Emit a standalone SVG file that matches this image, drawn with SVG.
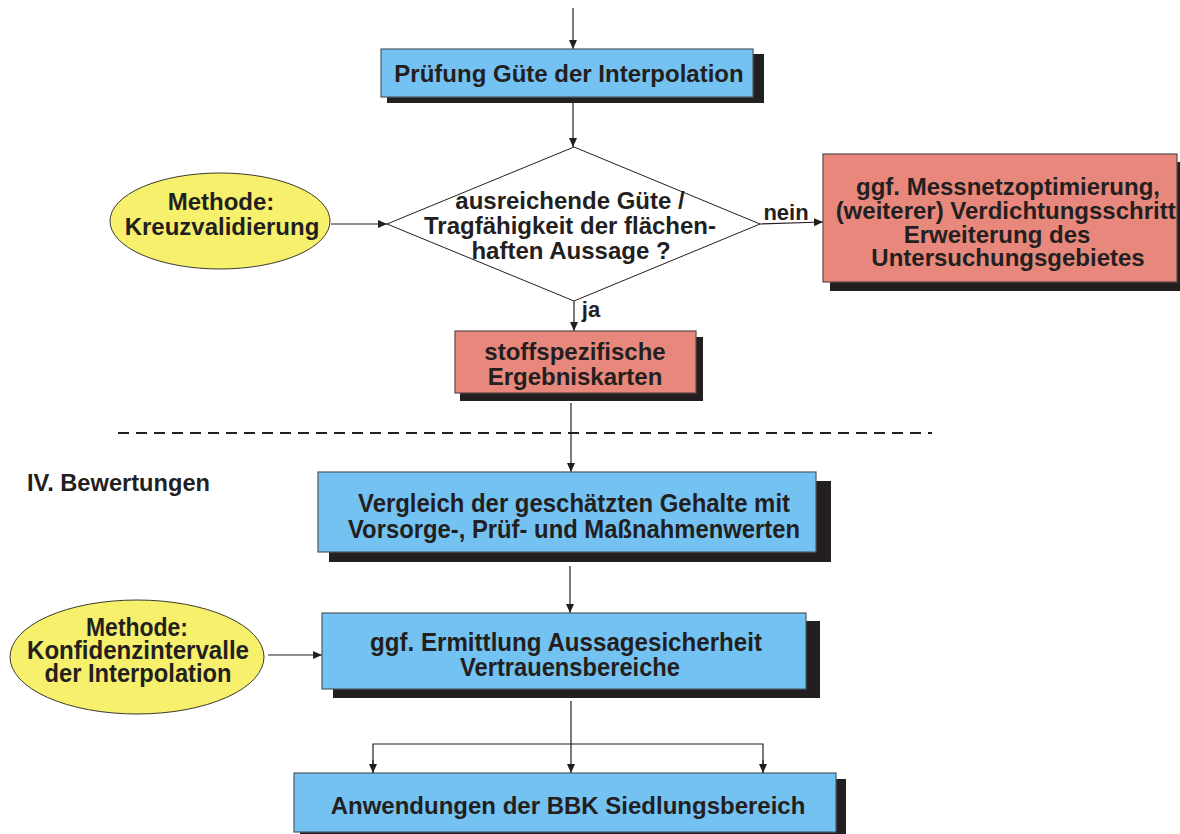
<svg xmlns="http://www.w3.org/2000/svg" width="1180" height="834" viewBox="0 0 1180 834">
  <defs>
    <marker id="arrow" markerWidth="10" markerHeight="10" refX="9" refY="5" orient="auto" markerUnits="userSpaceOnUse">
      <path d="M0,1 L9,5 L0,9 Z" fill="#231f20"/>
    </marker>
    <style>
      .shadow { fill: #231f20; }
      .blue { fill: #74c2f2; stroke: #4d5a66; stroke-width: 1.2; }
      .red { fill: #e8877b; stroke: #5a4a48; stroke-width: 1.2; }
      .yellow { fill: #f6f06c; stroke: #3a3a30; stroke-width: 1; }
      .diamond { fill: #ffffff; stroke: #231f20; stroke-width: 1; }
      .t { font-family: "Liberation Sans", Arial, sans-serif; font-weight: bold; fill: #231f20; text-anchor: middle; }
      .s24 { font-size: 24px; }
      .n25 { font-size: 25px; }
      .conn { stroke: #231f20; stroke-width: 1.2; fill: none; }
      .dash { stroke: #231f20; stroke-width: 2; stroke-dasharray: 11 7; fill: none; }
    </style>
  </defs>

  <rect width="1180" height="834" fill="#ffffff"/>

  <!-- connectors -->
  <g id="connectors">
    <line class="conn" x1="573" y1="8" x2="573" y2="49" marker-end="url(#arrow)"/>
    <line class="conn" x1="573" y1="103" x2="573" y2="147" marker-end="url(#arrow)"/>
    <line class="conn" x1="331" y1="224" x2="387" y2="224" marker-end="url(#arrow)"/>
    <line class="conn" x1="760" y1="224" x2="823" y2="222" marker-end="url(#arrow)"/>
    <line class="conn" x1="574" y1="301" x2="574" y2="331" marker-end="url(#arrow)"/>
    <line class="conn" x1="571" y1="403" x2="571" y2="472" marker-end="url(#arrow)"/>
    <line class="conn" x1="570" y1="566" x2="570" y2="613" marker-end="url(#arrow)"/>
    <line class="conn" x1="268" y1="655" x2="322" y2="655" marker-end="url(#arrow)"/>
    <line class="conn" x1="571" y1="701" x2="571" y2="773" marker-end="url(#arrow)"/>
    <polyline class="conn" points="373,773 373,744 763,744 763,773"/>
    <line class="conn" x1="373" y1="760" x2="373" y2="773" marker-end="url(#arrow)"/>
    <line class="conn" x1="763" y1="760" x2="763" y2="773" marker-end="url(#arrow)"/>
    <text class="t" x="786" y="220" style="font-size:22px">nein</text>
    <text class="t" x="591" y="317" style="font-size:22px">ja</text>
  </g>

  <!-- section separator -->
  <line class="dash" x1="118" y1="433" x2="932" y2="433"/>
  <text class="t" x="27" y="491" style="text-anchor:start;font-size:23px" textLength="183" lengthAdjust="spacingAndGlyphs">IV. Bewertungen</text>

  <g id="pruefung">
    <rect class="shadow" x="387" y="54" width="377" height="49"/>
    <rect class="blue" x="381" y="49" width="372" height="48"/>
    <text class="t s24" x="569" y="82">Prüfung Güte der Interpolation</text>
  </g>

  <g id="kreuzvalidierung">
    <ellipse class="yellow" cx="220" cy="221" rx="110" ry="48"/>
    <text class="t s24" x="221" y="210">Methode:</text>
    <text class="t s24" x="222" y="235">Kreuzvalidierung</text>
  </g>

  <g id="guete">
    <polygon class="diamond" points="574,147 760,224 574,301 387,224"/>
    <text class="t s24" x="570" y="209">ausreichende Güte /</text>
    <text class="t s24" x="570" y="234">Tragfähigkeit der flächen-</text>
    <text class="t s24" x="571" y="259">haften Aussage ?</text>
  </g>

  <g id="messnetz">
    <rect class="shadow" x="830" y="162" width="360" height="129"/>
    <rect class="red" x="823" y="154" width="354" height="128"/>
    <text class="t s24" x="1008" y="195">ggf. Messnetzoptimierung,</text>
    <text class="t s24" x="1009" y="219">(weiterer) Verdichtungsschritt,</text>
    <text class="t s24" x="997" y="243">Erweiterung des</text>
    <text class="t s24" x="1008" y="266">Untersuchungsgebietes</text>
  </g>

  <g id="ergebniskarten">
    <rect class="shadow" x="460" y="337" width="243" height="64"/>
    <rect class="red" x="455" y="331" width="241" height="62"/>
    <text class="t s24" x="575" y="360">stoffspezifische</text>
    <text class="t s24" x="575" y="385">Ergebniskarten</text>
  </g>

  <g id="vergleich">
    <rect class="shadow" x="329" y="481" width="502" height="81"/>
    <rect class="blue" x="318" y="472" width="498" height="80"/>
    <text class="t n25" x="574" y="512" textLength="432" lengthAdjust="spacingAndGlyphs">Vergleich der geschätzten Gehalte mit</text>
    <text class="t n25" x="574" y="538" textLength="452" lengthAdjust="spacingAndGlyphs">Vorsorge-, Prüf- und Maßnahmenwerten</text>
  </g>

  <g id="konfidenz">
    <ellipse class="yellow" cx="137" cy="657" rx="127" ry="57"/>
    <text class="t n25" x="137" y="636" textLength="102" lengthAdjust="spacingAndGlyphs">Methode:</text>
    <text class="t n25" x="138" y="659" textLength="222" lengthAdjust="spacingAndGlyphs">Konfidenzintervalle</text>
    <text class="t n25" x="138" y="682" textLength="187" lengthAdjust="spacingAndGlyphs">der Interpolation</text>
  </g>

  <g id="ermittlung">
    <rect class="shadow" x="333" y="621" width="487" height="77"/>
    <rect class="blue" x="322" y="613" width="484" height="76"/>
    <text class="t n25" x="566" y="651" textLength="392" lengthAdjust="spacingAndGlyphs">ggf. Ermittlung Aussagesicherheit</text>
    <text class="t n25" x="570" y="676" textLength="220" lengthAdjust="spacingAndGlyphs">Vertrauensbereiche</text>
  </g>

  <g id="anwendungen">
    <rect class="shadow" x="300" y="779" width="546" height="60"/>
    <rect class="blue" x="294" y="773" width="542" height="59"/>
    <text class="t s24" x="568" y="814">Anwendungen der BBK Siedlungsbereich</text>
  </g>
</svg>
